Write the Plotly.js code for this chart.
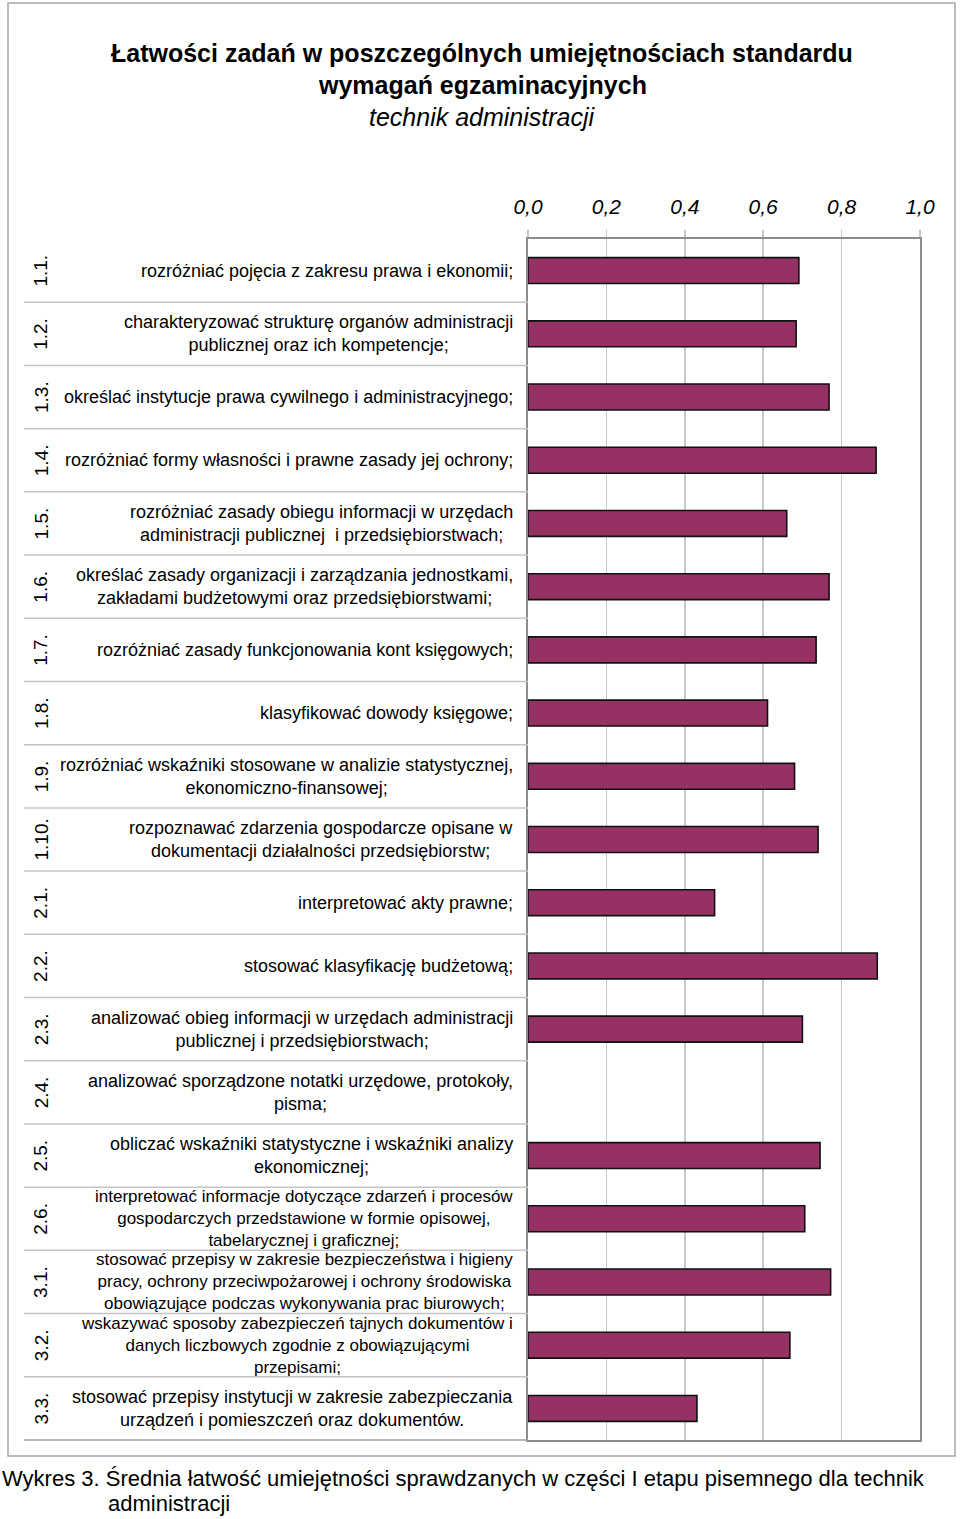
<!DOCTYPE html>
<html>
<head>
<meta charset="utf-8">
<script src="https://cdn.plot.ly/plotly-3.0.1.min.js"></script>
<style>
html,body{margin:0;padding:0;background:#fff;}
#chart{width:960px;height:1519px;}
</style>
</head>
<body>
<div id="chart"></div>
<script>
// ---- data ----
const codes = ["1.1.","1.2.","1.3.","1.4.","1.5.","1.6.","1.7.","1.8.","1.9.","1.10.",
               "2.1.","2.2.","2.3.","2.4.","2.5.","2.6.","3.1.","3.2.","3.3."];
const descriptions = [
  "rozróżniać pojęcia z zakresu prawa i ekonomii;",
  "charakteryzować strukturę organów administracji<br>publicznej oraz ich kompetencje;",
  "określać instytucje prawa cywilnego i administracyjnego;",
  "rozróżniać formy własności i prawne zasady jej ochrony;",
  "rozróżniać zasady obiegu informacji w urzędach<br>administracji publicznej  i przedsiębiorstwach;",
  "określać zasady organizacji i zarządzania jednostkami,<br>zakładami budżetowymi oraz przedsiębiorstwami;",
  "rozróżniać zasady funkcjonowania kont księgowych;",
  "klasyfikować dowody księgowe;",
  "rozróżniać wskaźniki stosowane w analizie statystycznej,<br>ekonomiczno-finansowej;",
  "rozpoznawać zdarzenia gospodarcze opisane w<br>dokumentacji działalności przedsiębiorstw;",
  "interpretować akty prawne;",
  "stosować klasyfikację budżetową;",
  "analizować obieg informacji w urzędach administracji<br>publicznej i przedsiębiorstwach;",
  "analizować sporządzone notatki urzędowe, protokoły,<br>pisma;",
  "obliczać wskaźniki statystyczne i wskaźniki analizy<br>ekonomicznej;",
  "interpretować informacje dotyczące zdarzeń i procesów<br>gospodarczych przedstawione w formie opisowej,<br>tabelarycznej i graficznej;",
  "stosować przepisy w zakresie bezpieczeństwa i higieny<br>pracy, ochrony przeciwpożarowej i ochrony środowiska<br>obowiązujące podczas wykonywania prac biurowych;",
  "wskazywać sposoby zabezpieczeń tajnych dokumentów i<br>danych liczbowych zgodnie z obowiązującymi<br>przepisami;",
  "stosować przepisy instytucji w zakresie zabezpieczania<br>urządzeń i pomieszczeń oraz dokumentów."
];
const values = [0.691,0.684,0.768,0.888,0.660,0.768,0.735,0.611,0.680,0.740,
                0.476,0.891,0.700,null,0.745,0.706,0.772,0.668,0.431];
const tickValues = [0,0.2,0.4,0.6,0.8,1.0];

const titleLine1 = "Łatwości zadań w poszczególnych umiejętnościach standardu";
const titleLine2 = "wymagań egzaminacyjnych";
const subtitle = "technik administracji";
const caption1 = "Wykres 3. Średnia łatwość umiejętności sprawdzanych w części I etapu pisemnego dla technik";
const caption2 = "administracji";

// ---- layout geometry ----
const W = 960, H = 1519;
const mL = 528, mR = 40, mT = 239, mB = 79;
const PW = W - mL - mR, PH = H - mT - mB;
const px = p => (p - mL) / PW;
const py = p => (mT + PH - p) / PH;
const FONT = "'Liberation Sans', Arial, sans-serif";

const trace = {
  type: "bar",
  orientation: "h",
  x: values,
  y: codes,
  marker: {color: "#963263", line: {color: "#111111", width: 1.6}},
  hoverinfo: "x+y"
};

const annotations = [];
const shapes = [];

codes.forEach((c, i) => {
  const nLines = descriptions[i].split("<br>").length;
  annotations.push({
    xref: "paper", yref: "y", x: 0, y: c, xshift: -13,
    xanchor: "right", yanchor: "middle", align: "center",
    text: descriptions[i], showarrow: false,
    font: {family: FONT, size: nLines > 2 ? 17 : 18, color: "#000"}
  });
  annotations.push({
    xref: "paper", yref: "y", x: px(41), y: c,
    xanchor: "center", yanchor: "middle", textangle: -90,
    text: c, showarrow: false,
    font: {family: FONT, size: 19, color: "#000"}
  });
  if (i > 0) {
    shapes.push({type: "line", xref: "paper", yref: "y",
      x0: px(24), x1: 0, y0: i - 0.5, y1: i - 0.5,
      line: {color: "#c4c4c4", width: 1.5}});
  }
});
// bottom separator
shapes.push({type: "line", xref: "paper", yref: "paper",
  x0: px(24), x1: 0, y0: 0, y1: 0, line: {color: "#a0a0a0", width: 1.5}});
// outer frame
shapes.push({type: "rect", xref: "paper", yref: "paper",
  x0: px(8), x1: px(955), y0: py(1456), y1: py(3),
  line: {color: "#a8a8a8", width: 1.5}, layer: "below"});

annotations.push({xref:"paper", yref:"paper", x: px(482), y: py(53),
  xanchor:"center", yanchor:"middle", showarrow:false, text: "<b>"+titleLine1+"</b>",
  font:{family:FONT, size:25, color:"#000"}});
annotations.push({xref:"paper", yref:"paper", x: px(482), y: py(85),
  xanchor:"center", yanchor:"middle", showarrow:false, text: "<b>"+titleLine2+"</b>",
  font:{family:FONT, size:25, color:"#000"}});
annotations.push({xref:"paper", yref:"paper", x: px(482), y: py(117),
  xanchor:"center", yanchor:"middle", showarrow:false, text: "<i>"+subtitle+"</i>",
  font:{family:FONT, size:25, color:"#000"}});
annotations.push({xref:"paper", yref:"paper", x: px(0), y: py(1478),
  xanchor:"left", yanchor:"middle", showarrow:false, text: caption1,
  font:{family:FONT, size:22, color:"#000"}});
annotations.push({xref:"paper", yref:"paper", x: px(106), y: py(1503),
  xanchor:"left", yanchor:"middle", showarrow:false, text: caption2,
  font:{family:FONT, size:22, color:"#000"}});

const layout = {
  width: W, height: H,
  margin: {l: mL, r: mR, t: mT, b: mB, pad: 0},
  paper_bgcolor: "#fff", plot_bgcolor: "#fff",
  separators: ", ",
  showlegend: false,
  bargap: 0.59,
  font: {family: FONT, color: "#000"},
  xaxis: {
    side: "top", range: [0, 1], tickvals: tickValues, tickformat: ".1f",
    showgrid: true, gridcolor: "#c8c8c8", gridwidth: 1.5,
    showline: true, linecolor: "#8c8c8c", linewidth: 2, mirror: true,
    ticks: "outside", ticklen: 7, tickcolor: "#c8c8c8", tickwidth: 1.5,
    ticklabelstandoff: 8,
    tickfont: {family: FONT, size: 21, style: "italic", color: "#000"},
    zeroline: false, fixedrange: true
  },
  yaxis: {
    type: "category", autorange: "reversed",
    showticklabels: false, ticks: "", showgrid: false,
    showline: true, linecolor: "#8c8c8c", linewidth: 2, mirror: true,
    zeroline: false, fixedrange: true
  },
  annotations: annotations,
  shapes: shapes
};

Plotly.newPlot("chart", [trace], layout, {displayModeBar: false, staticPlot: true});
</script>
</body>
</html>
